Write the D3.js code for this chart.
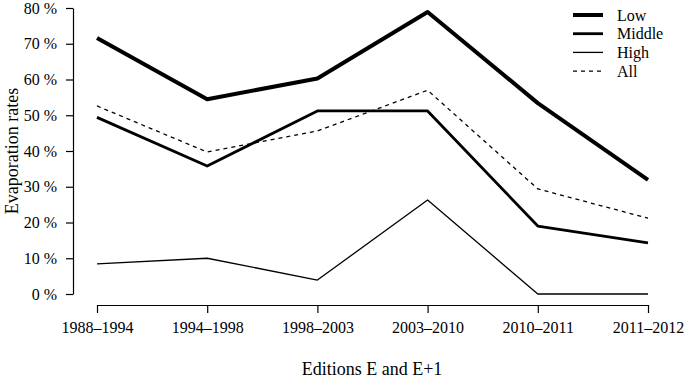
<!DOCTYPE html>
<html>
<head>
<meta charset="utf-8">
<script src="https://cdn.jsdelivr.net/npm/d3@7"></script>
<style>
  body { margin: 0; background: #fff; }
  svg text { font-family: "Liberation Serif", serif !important; fill: #000; }
</style>
</head>
<body>
<div id="container"></div>
<script>
/* CONSTANTS AND GLOBALS */
const width = 685,
  height = 381,
  margin = { top: 8, right: 37, bottom: 87, left: 73 };

const editions = ["1988\u20131994", "1994\u20131998", "1998\u20132003", "2003\u20132010", "2010\u20132011", "2011\u20132012"];
const yTicks = [0, 10, 20, 30, 40, 50, 60, 70, 80];

const low = [71.6, 54.5, 60.3, 78.9, 53.4, 31.9];
const middle = [49.4, 35.8, 51.2, 51.2, 19.0, 14.3];
const high = [8.4, 10.0, 3.9, 26.3, 0, 0];
const all = [52.6, 39.7, 45.6, 57.0, 29.4, 21.2];

const series = [
  { name: "Low", values: low, width: 4, dash: null },
  { name: "Middle", values: middle, width: 2.8, dash: null },
  { name: "High", values: high, width: 1.3, dash: null },
  { name: "All", values: all, width: 1.3, dash: "4,4" }
];

const svg = d3.select("#container").append("svg")
  .attr("width", width)
  .attr("height", height);

const xScale = d3.scalePoint()
  .domain(editions)
  .range([97, 648]);

const yScale = d3.scaleLinear()
  .domain([0, 80])
  .range([294, 8]);

/* AXES */
const xAxis = d3.axisBottom(xScale).tickSize(8).tickPadding(9).tickSizeOuter(0);
const gx = svg.append("g")
  .attr("transform", "translate(0,305)")
  .call(xAxis);
gx.select(".domain").attr("stroke-width", 1.2);
gx.selectAll(".tick line").attr("stroke-width", 1.2);
gx.selectAll(".tick text").attr("font-size", 16);

const yAxis = d3.axisLeft(yScale).tickValues(yTicks).tickSize(7).tickPadding(9)
  .tickSizeOuter(0)
  .tickFormat(d => d + " %");
const gy = svg.append("g")
  .attr("transform", `translate(${margin.left},0)`)
  .call(yAxis);
gy.select(".domain").attr("stroke-width", 1.2);
gy.selectAll(".tick line").attr("stroke-width", 1.2);
gy.selectAll(".tick text").attr("font-size", 16);

svg.append("text")
  .attr("x", 372)
  .attr("y", 375)
  .attr("text-anchor", "middle")
  .attr("font-size", 18)
  .text("Editions E and E+1");

svg.append("text")
  .attr("transform", "translate(18,151) rotate(-90)")
  .attr("text-anchor", "middle")
  .attr("font-size", 18)
  .text("Evaporation rates");

/* LINES */
const line = d3.line()
  .x((d, i) => xScale(editions[i]))
  .y(d => yScale(d));

svg.selectAll(".series")
  .data(series)
  .join("path")
  .attr("class", "series")
  .attr("fill", "none")
  .attr("stroke", "#000")
  .attr("stroke-width", d => d.width)
  .attr("stroke-dasharray", d => d.dash)
  .attr("stroke-linejoin", "round")
  .attr("d", d => line(d.values));

/* LEGEND */
const legend = svg.append("g").attr("transform", "translate(573,15)");
const rows = legend.selectAll("g")
  .data(series)
  .join("g")
  .attr("transform", (d, i) => `translate(0,${i * 18.7})`);
rows.append("line")
  .attr("x1", 0).attr("x2", 30)
  .attr("stroke", "#000")
  .attr("stroke-width", d => d.width)
  .attr("stroke-dasharray", d => d.dash);
rows.append("text")
  .attr("x", 44)
  .attr("dy", "0.35em")
  .attr("font-size", 16)
  .text(d => d.name);
</script>
</body>
</html>
